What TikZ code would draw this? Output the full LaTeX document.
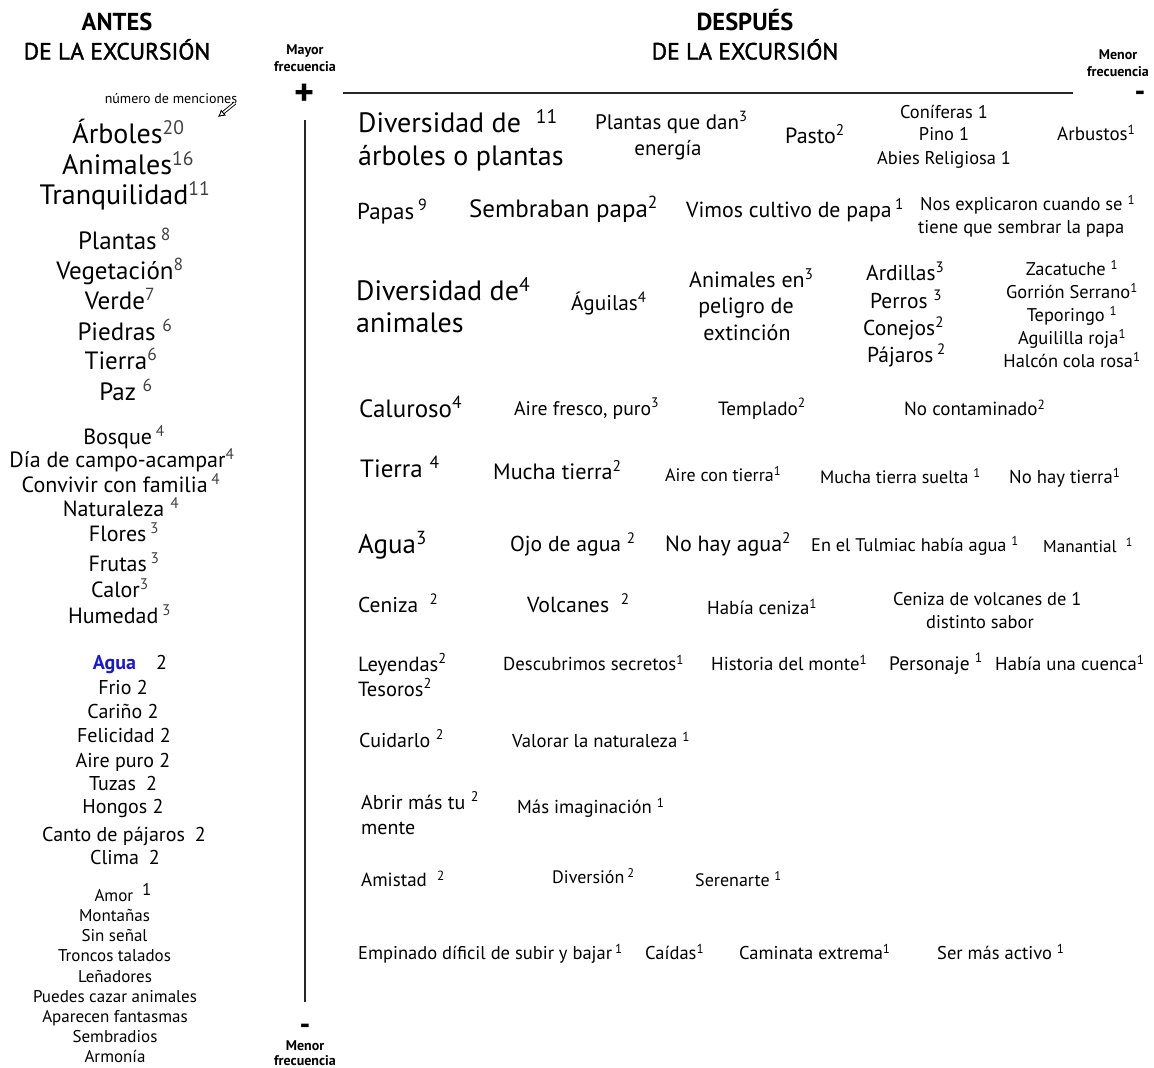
\documentclass[tikz,border=0pt]{standalone}
\usepackage{fontspec}
\setmainfont{PT Sans}
\newfontfamily\semib[FakeBold=1.6]{PT Sans}
\usetikzlibrary{arrows.meta}
\definecolor{numgray}{HTML}{404040}
\definecolor{aguablue}{HTML}{1A1AC8}
\newcommand\fz[1]{\fontsize{#1}{#1}\selectfont}
\newcommand\su[1]{\textsuperscript{#1}}
\newcommand\gs[1]{\textsuperscript{\textcolor{numgray}{#1}}}
\tikzset{
  lw/.style={anchor=mid, inner sep=0pt},
  rw/.style={anchor=mid west, inner sep=0pt},
  rc/.style={anchor=mid, inner sep=0pt},
  fs/.style={font={\fz{#1}}},
  head/.style={anchor=mid, inner sep=0pt, font={\semib\fz{23.5}}},
  bhead/.style={anchor=mid, inner sep=0pt, font={\bfseries\fz{24.5}}},
  freq/.style={anchor=mid, inner sep=0pt, font={\bfseries\fz{14}}},
  sign/.style={anchor=mid, inner sep=0pt, font={\bfseries\fz{30}}},
  axis/.style={line width=1.6pt, black!85},
}
\begin{document}
\begin{tikzpicture}[x=1pt,y=-1pt]
\useasboundingbox (0,0) rectangle (1154,1068);
% headers
\node[bhead] (hA) at (117,28) {ANTES};
\node[head] (hB) at (117,57) {DE LA EXCURSIÓN};
\node[bhead] (hC) at (745,28) {DESPUÉS};
\node[head] (hD) at (745,57) {DE LA EXCURSIÓN};
\node[freq] (mf1) at (305,52) {Mayor};
\node[freq] (mf2) at (305,69) {frecuencia};
\node[sign,font={\bfseries\fz{38}}] (plus) at (305,103) {+};
\node[freq] (nf1) at (1118,57) {Menor};
\node[freq] (nf2) at (1118,74) {frecuencia};
\node[sign] (minusR) at (1140,99) {-};
\node[sign] (minusB) at (305,1032) {-};
\node[freq] (bf1) at (305,1048) {Menor};
\node[freq] (bf2) at (305,1063) {frecuencia};
\coordinate (vtop) at (305,120);
\coordinate (vbot) at (305,1002);
\draw[axis] (vtop) -- (vbot);
\coordinate (hl) at (343,93);
\coordinate (hr) at (1073,93);
\draw[axis] (hl) -- (hr);
% note
\node[lw,fs=14] (note) at (171,101) {número de menciones};
\coordinate (arS) at (235,103);
\coordinate (arE) at (218,117);
\draw[double=white, double distance=1.6pt, line width=0.9pt, -{Latex[open,length=7pt,width=8pt,line width=0.9pt]}] (arS) -- (arE);
% left column
\node[lw,fs=28] (l01) at (128.5,141) {Árboles\gs{20}};
\node[lw,fs=28] (l02) at (128,172) {Animales\gs{16}};
\node[lw,fs=28] (l03) at (125,202) {Tranquilidad\gs{11}};
\node[lw,fs=25] (l04) at (124.5,247) {Plantas\,\gs{8}};
\node[lw,fs=25] (l05) at (120,277) {Vegetación\gs{8}};
\node[lw,fs=25] (l06) at (120,307) {Verde\gs{7}};
\node[lw,fs=25] (l07) at (125,338) {Piedras~\gs{6}};
\node[lw,fs=25] (l08) at (121,367) {Tierra\gs{6}};
\node[lw,fs=25] (l09) at (126,398) {Paz~\gs{6}};
\node[lw,fs=22] (l10) at (124,442) {Bosque\,\gs{4}};
\node[lw,fs=22] (l11) at (122,465) {Día de campo-acampar\gs{4}};
\node[lw,fs=22] (l12) at (121,490) {Convivir con familia\,\gs{4}};
\node[lw,fs=22] (l13) at (121,514) {Naturaleza~\gs{4}};
\node[lw,fs=22] (l14) at (124,539) {Flores\,\gs{3}};
\node[lw,fs=22] (l15) at (124,569) {Frutas\,\gs{3}};
\node[lw,fs=22] (l16) at (120,595) {Calor\gs{3}};
\node[lw,fs=22] (l17) at (119.5,621) {Humedad\,\gs{3}};
\node[lw,fs=20] (l18) at (130,667) {\textcolor{aguablue}{\bfseries Agua}\quad 2};
\node[lw,fs=20] (l19) at (123,692) {Frio 2};
\node[lw,fs=20] (l20) at (123,716) {Cariño 2};
\node[lw,fs=20] (l21) at (124,740) {Felicidad 2};
\node[lw,fs=20] (l22) at (123,765) {Aire puro 2};
\node[lw,fs=20] (l23) at (123,788) {Tuzas\enspace 2};
\node[lw,fs=20] (l24) at (123,811) {Hongos 2};
\node[lw,fs=20] (l25) at (124,839) {Canto de pájaros\enspace 2};
\node[lw,fs=20] (l26) at (125,862) {Clima\enspace 2};
\node[lw,fs=17] (l27) at (123,899) {Amor~~\raisebox{0.35em}{1}};
\node[lw,fs=17] (l28) at (114.5,919) {Montañas};
\node[lw,fs=17] (l29) at (114.5,939) {Sin señal};
\node[lw,fs=17] (l30) at (114.5,959) {Troncos talados};
\node[lw,fs=17] (l31) at (115,980) {Leñadores};
\node[lw,fs=17] (l32) at (115,1000) {Puedes cazar animales};
\node[lw,fs=17] (l33) at (115,1020) {Aparecen fantasmas};
\node[lw,fs=17] (l34) at (115,1040) {Sembradios};
\node[lw,fs=17] (l35) at (115,1060) {Armonía};
% right: row 1
\node[rw,fs=28] (r1a) at (358,130) {Diversidad de~~\su{11}};
\node[rw,fs=28] (r1b) at (358,163) {árboles o plantas};
\node[rw,fs=21] (r1c) at (595,127) {Plantas que dan\su{3}};
\node[rc,fs=21] (r1d) at (668,153) {energía};
\node[rw,fs=22] (r1e) at (785,141) {Pasto\su{2}};
\node[rc,fs=18.4] (r1f) at (944,116) {Coníferas 1};
\node[rc,fs=18.4] (r1g) at (944,138) {Pino 1};
\node[rc,fs=18.4] (r1h) at (944,162) {Abies Religiosa 1};
\node[rw,fs=19] (r1i) at (1057,138) {Arbustos\su{1}};
% row 2
\node[rw,fs=23] (r2a) at (357,217) {Papas\,\su{9}};
\node[rw,fs=25] (r2b) at (469,215) {Sembraban papa\su{2}};
\node[rw,fs=21.8] (r2c) at (686,215) {Vimos cultivo de papa\,\su{1}};
\node[rw,fs=18.5] (r2d) at (920,208) {Nos explicaron cuando se~\su{1}};
\node[rw,fs=18.5] (r2e) at (918,231) {tiene que sembrar la papa};
% row 3
\node[rw,fs=28] (r3a) at (356,298) {Diversidad de\su{4}};
\node[rw,fs=28] (r3b) at (356,330) {animales};
\node[rw,fs=21.3] (r3c) at (571,308) {Águilas\su{4}};
\node[rw,fs=22] (r3d) at (689,285) {Animales en\su{3}};
\node[rc,fs=22] (r3e) at (746,311) {peligro de};
\node[rc,fs=22] (r3f) at (747,338) {extinción};
\node[rw,fs=21.5] (r3g) at (866,278) {Ardillas\su{3}};
\node[rw,fs=21.5] (r3h) at (870,306) {Perros~\su{3}};
\node[rw,fs=21.5] (r3i) at (863,333) {Conejos\su{2}};
\node[rw,fs=21.5] (r3j) at (867,360) {Pájaros\,\su{2}};
\node[rc,fs=18.4] (r3k) at (1072,273) {Zacatuche~\su{1}};
\node[rc,fs=18.4] (r3l) at (1072,296) {Gorrión Serrano\su{1}};
\node[rc,fs=18.4] (r3m) at (1072,319) {Teporingo~\su{1}};
\node[rc,fs=18.4] (r3n) at (1072,342) {Aguililla roja\su{1}};
\node[rc,fs=18.4] (r3o) at (1072,365) {Halcón cola rosa\su{1}};
% row 4
\node[rw,fs=25] (r4a) at (359,415) {Caluroso\su{4}};
\node[rw,fs=19.7] (r4b) at (514,413) {Aire fresco, puro\su{3}};
\node[rw,fs=19.2] (r4c) at (718,413) {Templado\su{2}};
\node[rw,fs=19] (r4d) at (904,413) {No contaminado\su{2}};
% row 5
\node[rw,fs=25] (r5a) at (360,475) {Tierra~\su{4}};
\node[rw,fs=22.2] (r5b) at (493,477) {Mucha tierra\su{2}};
\node[rw,fs=18] (r5c) at (665,479) {Aire con tierra\su{1}};
\node[rw,fs=18] (r5d) at (820,481) {Mucha tierra suelta~\su{1}};
\node[rw,fs=18.7] (r5e) at (1009,481) {No hay tierra\su{1}};
% row 6
\node[rw,fs=27] (r6a) at (358,551) {Agua\su{3}};
\node[rw,fs=21.6] (r6b) at (510,549) {Ojo de agua~\su{2}};
\node[rw,fs=22] (r6c) at (665,549) {No hay agua\su{2}};
\node[rw,fs=18.3] (r6d) at (811,549) {En el Tulmiac había agua~\su{1}};
\node[rw,fs=17.2] (r6e) at (1043,550) {Manantial~~\su{1}};
% row 7
\node[rw,fs=21.4] (r7a) at (358,610) {Ceniza~~\su{2}};
\node[rw,fs=21.8] (r7b) at (527,610) {Volcanes~~\su{2}};
\node[rw,fs=18.8] (r7c) at (707,612) {Había ceniza\su{1}};
\node[rw,fs=18.4] (r7d) at (893,603) {Ceniza de volcanes de 1};
\node[rc,fs=18.4] (r7e) at (980,626) {distinto sabor};
% row 8
\node[rw,fs=20.5] (r8a) at (358,669) {Leyendas\su{2}};
\node[rw,fs=20.5] (r8b) at (358,694) {Tesoros\su{2}};
\node[rw,fs=18.7] (r8c) at (503,668) {Descubrimos secretos\su{1}};
\node[rw,fs=18.7] (r8d) at (711,668) {Historia del monte\su{1}};
\node[rw,fs=19.4] (r8e) at (889,668) {Personaje~\su{1}};
\node[rw,fs=18.7] (r8f) at (995,668) {Había una cuenca\su{1}};
% row 9
\node[rw,fs=20] (r9a) at (359,745) {Cuidarlo~\su{2}};
\node[rw,fs=18.7] (r9b) at (512,745) {Valorar la naturaleza~\su{1}};
% row 10
\node[rw,fs=20] (r10a) at (361,807) {Abrir más tu~\su{2}};
\node[rw,fs=20] (r10b) at (361,832) {mente};
\node[rw,fs=18.7] (r10c) at (517,811) {Más imaginación~\su{1}};
% row 11
\node[rw,fs=19] (r11a) at (361,884) {Amistad~~\su{2}};
\node[rw,fs=18] (r11b) at (552,881) {Diversión\,\su{2}};
\node[rw,fs=18] (r11c) at (695,884) {Serenarte~\su{1}};
% row 12
\node[rw,fs=18.5] (r12a) at (358,957) {Empinado díficil de subir y bajar\,\su{1}};
\node[rw,fs=18.5] (r12b) at (645,957) {Caídas\su{1}};
\node[rw,fs=18.5] (r12c) at (739,957) {Caminata extrema\su{1}};
\node[rw,fs=18.5] (r12d) at (937,957) {Ser más activo~\su{1}};
\end{tikzpicture}
\end{document}
